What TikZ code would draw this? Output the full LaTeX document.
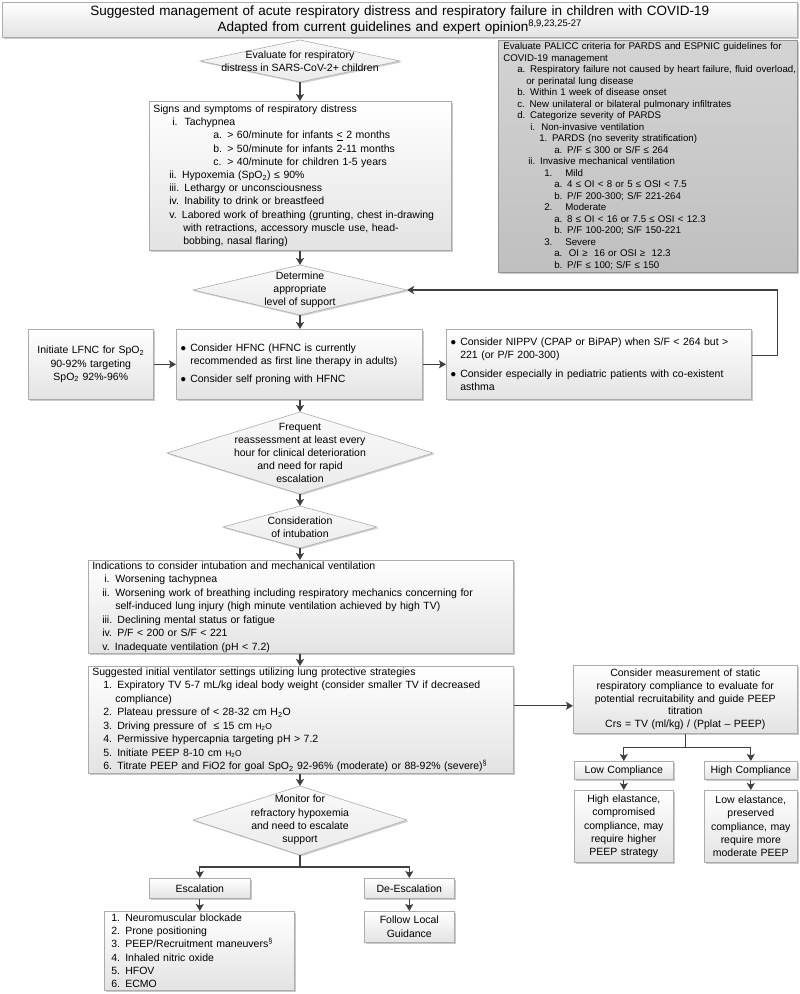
\documentclass[tikz,border=0pt]{standalone}
\usepackage{fontspec}
\setmainfont{Liberation Sans}
\usetikzlibrary{arrows.meta,shadows,calc}
\newcommand{\myMainFont}{\fontsize{10.5}{13.2}\selectfont}
\newcommand{\myPalFont}{\fontsize{9.7}{11.5}\selectfont}
\newcommand{\myTitleFont}{\fontsize{13.5}{16.5}\selectfont}
\newcommand{\myBullet}{\makebox[10pt][l]{\fontsize{10}{10}\selectfont ●}}
\newcommand{\mySmallHO}{{\fontsize{8.5}{9}\selectfont H\textsubscript{2}O}}
\begin{document}
\begin{tikzpicture}[x=1pt,y=-1pt,
  box/.style={draw=gray!65, line width=0.6pt, top color=white, bottom color=gray!22,
    drop shadow={shadow xshift=1.6pt, shadow yshift=-1.6pt, opacity=0.35, fill=black!60},
    inner xsep=4pt, inner ysep=0pt, anchor=north west, text=black, font=\myMainFont},
  darkbox/.style={box, top color=black!17, bottom color=black!25, draw=gray!85},
  diam/.style={draw=gray!65, line width=0.6pt, top color=gray!4, bottom color=gray!16,
    drop shadow={shadow xshift=1.4pt, shadow yshift=-1.4pt, opacity=0.3, fill=black!60}},
  dtext/.style={align=center, font=\myMainFont, inner sep=0pt, text=black},
  arr/.style={draw=black!75, line width=1.2pt, -{Stealth[length=7pt,width=8pt,inset=1.5pt]}},
  conn/.style={draw=black!75, line width=1.2pt}]
\useasboundingbox (0,0) rectangle (800,994);

% title
\node[box, minimum width=795pt, minimum height=35pt, text width=787pt, align=center, font=\myTitleFont] (title) at (2,2)
 {Suggested management of acute respiratory distress and respiratory failure in children with COVID-19\\
  Adapted from current guidelines and expert opinion\textsuperscript{8,9,23,25-27}};

% diamond 1
\path[diam] (300,40) coordinate (d1t) -- (400,61) coordinate (d1r) -- (300,82) coordinate (d1b) -- (200,61) coordinate (d1l) -- cycle;
\node[dtext] (d1) at (300,61) {Evaluate for respiratory\\distress in SARS-CoV-2+ children};

% signs box
\node[box, minimum width=302pt, minimum height=149pt, text width=294pt, align=left] (signs) at (149,101)
 {Signs and symptoms of respiratory distress\\
  \hspace*{19pt}i.\ \ Tachypnea\\
  \hspace*{60pt}\makebox[14pt][l]{a.}> 60/minute for infants \underline{<} 2 months\\
  \hspace*{60pt}\makebox[14pt][l]{b.}> 50/minute for infants 2-11 months\\
  \hspace*{60pt}\makebox[14pt][l]{c.}> 40/minute for children 1-5 years\\
  \hspace*{16pt}ii. Hypoxemia (SpO\textsubscript{2}) ≤ 90\%\\
  \hspace*{16pt}iii. Lethargy or unconsciousness\\
  \hspace*{16pt}iv. Inability to drink or breastfeed\\
  \hspace*{16pt}v. Labored work of breathing (grunting, chest in-drawing\\
  \hspace*{30pt}with retractions, accessory muscle use, head-\\
  \hspace*{30pt}bobbing, nasal flaring)};

% PALICC box
\node[darkbox, minimum width=299pt, minimum height=232pt, inner xsep=5pt, text width=289pt, align=left, font=\myPalFont] (pal) at (498,40)
 {\mbox{Evaluate PALICC criteria for PARDS and ESPNIC guidelines for}\\
  COVID-19 management\\
  \hspace*{14pt}\mbox{a. Respiratory failure not caused by heart failure, fluid overload,}\\
  \hspace*{23pt}or perinatal lung disease\\
  \hspace*{14pt}b. Within 1 week of disease onset\\
  \hspace*{14pt}c. New unilateral or bilateral pulmonary infiltrates\\
  \hspace*{14pt}d. Categorize severity of PARDS\\
  \hspace*{27pt}\makebox[11pt][l]{i.}Non-invasive ventilation\\
  \hspace*{36pt}1. PARDS (no severity stratification)\\
  \hspace*{51pt}a. P/F ≤ 300 or S/F ≤ 264\\
  \hspace*{25pt}ii. Invasive mechanical ventilation\\
  \hspace*{41pt}\makebox[21pt][l]{1.}Mild\\
  \hspace*{51pt}a. 4 ≤ OI < 8 or 5 ≤ OSI < 7.5\\
  \hspace*{51pt}b. P/F 200-300; S/F 221-264\\
  \hspace*{41pt}\makebox[21pt][l]{2.}Moderate\\
  \hspace*{51pt}a. 8 ≤ OI < 16 or 7.5 ≤ OSI < 12.3\\
  \hspace*{51pt}b. P/F 100-200; S/F 150-221\\
  \hspace*{41pt}\makebox[21pt][l]{3.}Severe\\
  \hspace*{51pt}a.\ \ OI ≥\ \ 16 or OSI ≥\ \ 12.3\\
  \hspace*{51pt}b. P/F ≤ 100; S/F ≤ 150};

% diamond 2
\path[diam] (300,265) coordinate (d2t) -- (407,290) coordinate (d2r) -- (300,315) coordinate (d2b) -- (193,290) coordinate (d2l) -- cycle;
\node[dtext] (d2) at (300,290) {Determine\\appropriate\\level of support};

% row of support boxes
\node[box, minimum width=125pt, minimum height=70pt, text width=117pt, align=center] (lfnc) at (28,329)
 {Initiate LFNC for SpO\textsubscript{2}\\90-92\% targeting\\SpO\textsubscript{2} 92\%-96\%};
\node[box, minimum width=246pt, minimum height=70pt, text width=238pt, align=left] (hfnc) at (176,329)
 {\myBullet Consider HFNC (HFNC is currently\\
  \hspace*{10pt}recommended as first line therapy in adults)\\[5pt]
  \myBullet Consider self proning with HFNC};
\node[box, minimum width=305pt, minimum height=70pt, text width=297pt, align=left] (nippv) at (446,329)
 {\myBullet Consider NIPPV (CPAP or BiPAP) when S/F < 264 but >\\
  \hspace*{10pt}221 (or P/F 200-300)\\[5pt]
  \myBullet Consider especially in pediatric patients with co-existent\\
  \hspace*{10pt}asthma};

% diamond 3
\path[diam] (300,412) coordinate (d3t) -- (433,453) coordinate (d3r) -- (300,494) coordinate (d3b) -- (167,453) coordinate (d3l) -- cycle;
\node[dtext, font=\fontsize{10.5}{12.8}\selectfont] (d3) at (300,453) {Frequent\\reassessment at least every\\hour for clinical deterioration\\and need for rapid\\escalation};

% diamond 4
\path[diam] (300,506) coordinate (d4t) -- (377,527) coordinate (d4r) -- (300,548) coordinate (d4b) -- (223,527) coordinate (d4l) -- cycle;
\node[dtext] (d4) at (300,527) {Consideration\\of intubation};

% intubation box
\node[box, minimum width=425pt, minimum height=93pt, text width=417pt, align=left, font=\fontsize{10.5}{13.5}\selectfont] (intub) at (88,560)
 {Indications to consider intubation and mechanical ventilation\\
  \hspace*{12pt}\makebox[11pt][l]{i.}Worsening tachypnea\\
  \hspace*{10pt}\makebox[13pt][l]{ii.}Worsening work of breathing including respiratory mechanics concerning for\\
  \hspace*{23pt}self-induced lung injury (high minute ventilation achieved by high TV)\\
  \hspace*{10pt}iii. Declining mental status or fatigue\\
  \hspace*{10pt}iv. P/F < 200 or S/F < 221\\
  \hspace*{10pt}v. Inadequate ventilation (pH < 7.2)};

% ventilator box
\node[box, minimum width=425pt, minimum height=107pt, text width=417pt, align=left, font=\fontsize{10.5}{13.5}\selectfont] (vent) at (88,666)
 {Suggested initial ventilator settings utilizing lung protective strategies\\
  \hspace*{11pt}1. Expiratory TV 5-7 mL/kg ideal body weight (consider smaller TV if decreased\\
  \hspace*{23pt}compliance)\\
  \hspace*{11pt}2. Plateau pressure of < 28-32 cm H\textsubscript{2}O\\
  \hspace*{11pt}3. Driving pressure of\ \ ≤ 15 cm \mySmallHO\\
  \hspace*{11pt}4. Permissive hypercapnia targeting pH > 7.2\\
  \hspace*{11pt}5. Initiate PEEP 8-10 cm \mySmallHO\\
  \hspace*{11pt}6. Titrate PEEP and FiO2 for goal SpO\textsubscript{2} 92-96\% (moderate) or 88-92\% (severe)\textsuperscript{\S}};

% compliance branch
\node[box, minimum width=224pt, minimum height=68pt, text width=216pt, align=center, font=\fontsize{10.5}{12.7}\selectfont] (comp) at (573,665)
 {Consider measurement of static\\respiratory compliance to evaluate for\\potential recruitability and guide PEEP\\titration\\Crs = TV (ml/kg) / (Pplat – PEEP)};
\node[box, minimum width=99pt, minimum height=18pt, text width=91pt, align=center] (low) at (574,761) {Low Compliance};
\node[box, minimum width=93pt, minimum height=18pt, text width=85pt, align=center] (high) at (704,761) {High Compliance};
\node[box, minimum width=99pt, minimum height=72pt, text width=91pt, align=center] (lowd) at (574,790)
 {High elastance,\\compromised\\compliance, may\\require higher\\PEEP strategy};
\node[box, minimum width=93pt, minimum height=72pt, text width=85pt, align=center] (highd) at (704,790)
 {Low elastance,\\preserved\\compliance, may\\require more\\moderate PEEP};

% diamond 5
\path[diam] (300,786) coordinate (d5t) -- (407,820) coordinate (d5r) -- (300,855) coordinate (d5b) -- (193,820) coordinate (d5l) -- cycle;
\node[dtext] (d5) at (300,820) {Monitor for\\refractory hypoxemia\\and need to escalate\\support};

% escalation
\node[box, minimum width=101pt, minimum height=20pt, text width=93pt, align=center] (esc) at (149,878) {Escalation};
\node[box, minimum width=90pt, minimum height=20pt, text width=82pt, align=center] (desc) at (364,878) {De-Escalation};
\node[box, minimum width=190pt, minimum height=79pt, inner xsep=7pt, text width=176pt, align=left] (list) at (104,911)
 {1. Neuromuscular blockade\\2. Prone positioning\\3. PEEP/Recruitment maneuvers\textsuperscript{\S}\\4. Inhaled nitric oxide\\5. HFOV\\6. ECMO};
\node[box, minimum width=90pt, minimum height=31pt, text width=82pt, align=center] (follow) at (364,911) {Follow Local\\Guidance};

% connectors
\draw[arr] (d1b) -- (d1b |- signs.north);
\draw[arr] (d2t |- signs.south) -- (d2t);
\draw[arr] (d2b) -- (d2b |- hfnc.north);
\draw[arr] (lfnc.east) -- (lfnc.east -| hfnc.west);
\draw[arr] (hfnc.east) -- (hfnc.east -| nippv.west);
\coordinate (nfb) at ([yshift=9pt]nippv.east);
\draw[arr] (nfb) -- ++(26,0) |- (d2r);
\draw[arr] (d3t |- hfnc.south) -- (d3t);
\draw[arr] (d3b) -- (d4t);
\draw[arr] (d4b) -- (d4b |- intub.north);
\draw[arr] (d4b |- intub.south) -- (d4b |- vent.north);
\coordinate (va) at ([yshift=14pt]vent.east);
\draw[arr] (va) -- (va -| comp.west);
\draw[conn] (comp.south) -- ++(0,14) coordinate (cj);
\draw[arr] (cj) -| (low.north);
\draw[arr] (cj) -| (high.north);
\draw[arr] (low.south) -- (lowd.north);
\draw[arr] (high.south) -- (highd.north);
\draw[arr] (d5t |- vent.south) -- (d5t);
\draw[conn] (d5b) -- ++(0,12) coordinate (ej);
\draw[arr] (ej) -| (esc.north);
\draw[arr] (ej) -| (desc.north);
\draw[arr] (esc.south) -- (esc.south |- list.north);
\draw[arr] (desc.south) -- (desc.south |- follow.north);
\end{tikzpicture}
\end{document}
